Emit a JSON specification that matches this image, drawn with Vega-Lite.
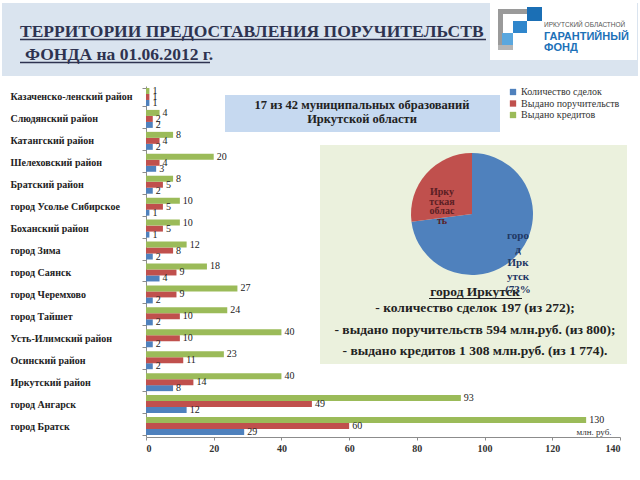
{
  "$schema": "https://vega.github.io/schema/vega-lite/v6.json",
  "width": 474,
  "height": 351,
  "autosize": {"type": "none"},
  "padding": {"left": 146, "top": 86, "right": 20, "bottom": 43},
  "background": "white",
  "config": {"view": {"stroke": null}, "font": "Liberation Serif", "legend": {"labelFont": "Liberation Serif"}},
  "layer": [
    {
      "data": {"values": [{}]},
      "layer": [
        {"mark": {"type": "rect", "color": "#dae4ef"},
         "encoding": {
           "x": {"datum": 2, "scale": {"domain": [0, 640], "range": [-146, 494], "nice": false, "zero": false}, "axis": null},
           "x2": {"datum": 638},
           "y": {"datum": 3, "scale": {"domain": [0, 480], "range": [-86, 394], "nice": false, "zero": false}, "axis": null},
           "y2": {"datum": 76}}},
        {"mark": {"type": "rect", "color": "#ffffff"},
         "encoding": {"x": {"datum": 490}, "x2": {"datum": 637}, "y": {"datum": 3}, "y2": {"datum": 60}}},
        {"mark": {"type": "rect", "color": "#c6d9f0"},
         "encoding": {"x": {"datum": 225}, "x2": {"datum": 500}, "y": {"datum": 95}, "y2": {"datum": 132}}},
        {"mark": {"type": "rect", "color": "#ebf1dd"},
         "encoding": {"x": {"datum": 320}, "x2": {"datum": 627}, "y": {"datum": 145}, "y2": {"datum": 364}}},
        {"mark": {"type": "rect", "color": "#9a9a9a"},
         "encoding": {"x": {"datum": 498}, "x2": {"datum": 503}, "y": {"datum": 9}, "y2": {"datum": 50}}},
        {"mark": {"type": "rect", "color": "#9a9a9a"},
         "encoding": {"x": {"datum": 498}, "x2": {"datum": 527}, "y": {"datum": 9}, "y2": {"datum": 14}}},
        {"mark": {"type": "rect", "color": "#b5b5b5"},
         "encoding": {"x": {"datum": 498}, "x2": {"datum": 513}, "y": {"datum": 45}, "y2": {"datum": 50}}},
        {"mark": {"type": "rect", "color": "#1b6fb5"},
         "encoding": {"x": {"datum": 527}, "x2": {"datum": 542}, "y": {"datum": 7}, "y2": {"datum": 21}}},
        {"mark": {"type": "rect", "color": "#2f86cc"},
         "encoding": {"x": {"datum": 513}, "x2": {"datum": 527}, "y": {"datum": 21}, "y2": {"datum": 33}}},
        {"mark": {"type": "rect", "color": "#5aa7de"},
         "encoding": {"x": {"datum": 502}, "x2": {"datum": 513}, "y": {"datum": 33}, "y2": {"datum": 45}}}
      ]
    },
    {
      "data": {"values": [
        {"area": "Казаченско-ленский район", "series": "Количество сделок", "value": 1},
        {"area": "Казаченско-ленский район", "series": "Выдано поручительств", "value": 1},
        {"area": "Казаченско-ленский район", "series": "Выдано кредитов", "value": 1},
        {"area": "Слюдянский район", "series": "Количество сделок", "value": 2},
        {"area": "Слюдянский район", "series": "Выдано поручительств", "value": 2},
        {"area": "Слюдянский район", "series": "Выдано кредитов", "value": 4},
        {"area": "Катангский район", "series": "Количество сделок", "value": 2},
        {"area": "Катангский район", "series": "Выдано поручительств", "value": 4},
        {"area": "Катангский район", "series": "Выдано кредитов", "value": 8},
        {"area": "Шелеховский район", "series": "Количество сделок", "value": 3},
        {"area": "Шелеховский район", "series": "Выдано поручительств", "value": 4},
        {"area": "Шелеховский район", "series": "Выдано кредитов", "value": 20},
        {"area": "Братский район", "series": "Количество сделок", "value": 2},
        {"area": "Братский район", "series": "Выдано поручительств", "value": 5},
        {"area": "Братский район", "series": "Выдано кредитов", "value": 8},
        {"area": "город Усолье Сибирское", "series": "Количество сделок", "value": 1},
        {"area": "город Усолье Сибирское", "series": "Выдано поручительств", "value": 5},
        {"area": "город Усолье Сибирское", "series": "Выдано кредитов", "value": 10},
        {"area": "Боханский район", "series": "Количество сделок", "value": 1},
        {"area": "Боханский район", "series": "Выдано поручительств", "value": 5},
        {"area": "Боханский район", "series": "Выдано кредитов", "value": 10},
        {"area": "город Зима", "series": "Количество сделок", "value": 2},
        {"area": "город Зима", "series": "Выдано поручительств", "value": 8},
        {"area": "город Зима", "series": "Выдано кредитов", "value": 12},
        {"area": "город Саянск", "series": "Количество сделок", "value": 4},
        {"area": "город Саянск", "series": "Выдано поручительств", "value": 9},
        {"area": "город Саянск", "series": "Выдано кредитов", "value": 18},
        {"area": "город Черемхово", "series": "Количество сделок", "value": 2},
        {"area": "город Черемхово", "series": "Выдано поручительств", "value": 9},
        {"area": "город Черемхово", "series": "Выдано кредитов", "value": 27},
        {"area": "город Тайшет", "series": "Количество сделок", "value": 2},
        {"area": "город Тайшет", "series": "Выдано поручительств", "value": 10},
        {"area": "город Тайшет", "series": "Выдано кредитов", "value": 24},
        {"area": "Усть-Илимский район", "series": "Количество сделок", "value": 2},
        {"area": "Усть-Илимский район", "series": "Выдано поручительств", "value": 10},
        {"area": "Усть-Илимский район", "series": "Выдано кредитов", "value": 40},
        {"area": "Осинский район", "series": "Количество сделок", "value": 2},
        {"area": "Осинский район", "series": "Выдано поручительств", "value": 11},
        {"area": "Осинский район", "series": "Выдано кредитов", "value": 23},
        {"area": "Иркутский район", "series": "Количество сделок", "value": 8},
        {"area": "Иркутский район", "series": "Выдано поручительств", "value": 14},
        {"area": "Иркутский район", "series": "Выдано кредитов", "value": 40},
        {"area": "город Ангарск", "series": "Количество сделок", "value": 12},
        {"area": "город Ангарск", "series": "Выдано поручительств", "value": 49},
        {"area": "город Ангарск", "series": "Выдано кредитов", "value": 93},
        {"area": "город Братск", "series": "Количество сделок", "value": 29},
        {"area": "город Братск", "series": "Выдано поручительств", "value": 60},
        {"area": "город Братск", "series": "Выдано кредитов", "value": 130}
      ]},
      "encoding": {
        "y": {"field": "area", "type": "nominal", "sort": null,
              "scale": {"paddingInner": 0.18, "paddingOuter": 0.09},
              "axis": {"orient": "left", "title": null, "labelAlign": "left", "labelPadding": 132, "tickSize": 4, "tickBand": "extent",
                       "labelFont": "Liberation Serif", "labelFontSize": 10, "labelFontWeight": "bold", "labelColor": "#222222",
                       "domainColor": "#8c8c8c", "tickColor": "#8c8c8c", "labelLimit": 200}},
        "x": {"field": "value", "type": "quantitative",
              "scale": {"domain": [0, 140], "nice": false},
              "axis": {"orient": "bottom", "title": null, "values": [0, 20, 40, 60, 80, 100, 120, 140], "grid": false,
                       "labelFont": "Liberation Serif", "labelFontSize": 10, "labelFontWeight": "bold", "labelColor": "#333333",
                       "domainColor": "#8c8c8c", "tickColor": "#8c8c8c", "tickSize": 3, "labelPadding": 3}},
        "yOffset": {"field": "series", "type": "nominal",
                    "scale": {"domain": ["Выдано кредитов", "Выдано поручительств", "Количество сделок"], "paddingInner": 0}}
      },
      "layer": [
        {"mark": {"type": "bar"},
         "encoding": {
           "color": {"field": "series", "type": "nominal",
                     "scale": {"domain": ["Количество сделок", "Выдано поручительств", "Выдано кредитов"], "range": ["#4f81bd", "#c0504d", "#9bbb59"]},
                     "legend": {"orient": "none", "legendX": 362, "legendY": 1, "title": null, "symbolType": "square", "symbolSize": 40,
                                "labelFont": "Liberation Serif", "labelFontSize": 10, "labelColor": "#333333", "rowPadding": 1.5,
                                "labelOffset": 3, "symbolStrokeWidth": 0, "padding": 0, "labelLimit": 200}}}},
        {"mark": {"type": "text", "align": "left", "baseline": "middle", "dx": 3, "fontSize": 10, "font": "Liberation Serif", "color": "#222222"},
         "encoding": {"text": {"field": "value", "type": "quantitative"}}}
      ]
    },
    {
      "data": {"values": [{"part": "город Иркутск", "share": 73}, {"part": "Иркутская область", "share": 27}]},
      "layer": [
        {"mark": {"type": "arc", "outerRadius": 61},
         "encoding": {
           "x": {"datum": 472, "scale": {"domain": [0, 640], "range": [-146, 494], "nice": false, "zero": false}, "axis": null},
           "y": {"datum": 214, "scale": {"domain": [0, 480], "range": [-86, 394], "nice": false, "zero": false}, "axis": null},
           "theta": {"field": "share", "type": "quantitative", "stack": true},
           "order": {"field": "share", "sort": "descending"},
           "color": {"field": "part", "type": "nominal", "scale": {"domain": ["город Иркутск", "Иркутская область"], "range": ["#4f81bd", "#c0504d"]}, "legend": null}}}
      ]
    },
    {
      "data": {"values": [{}]},
      "layer": [
        {"mark": {"type": "text", "text": "ТЕРРИТОРИИ  ПРЕДОСТАВЛЕНИЯ ПОРУЧИТЕЛЬСТВ", "align": "left", "baseline": "alphabetic", "fontSize": 17.5, "fontWeight": "bold", "font": "Liberation Serif", "color": "#2e3350"},
         "encoding": {
           "x": {"datum": 20, "scale": {"domain": [0, 640], "range": [-146, 494], "nice": false, "zero": false}, "axis": null},
           "y": {"datum": 37, "scale": {"domain": [0, 480], "range": [-86, 394], "nice": false, "zero": false}, "axis": null}}},
        {"mark": {"type": "rule", "color": "#2e3350", "strokeWidth": 1.3},
         "encoding": {"x": {"datum": 20}, "x2": {"datum": 486}, "y": {"datum": 39.5}}},
        {"mark": {"type": "text", "text": "ФОНДА  на 01.06.2012 г.", "align": "left", "baseline": "alphabetic", "fontSize": 17.5, "fontWeight": "bold", "font": "Liberation Serif", "color": "#2e3350"},
         "encoding": {"x": {"datum": 25}, "y": {"datum": 60}}},
        {"mark": {"type": "rule", "color": "#2e3350", "strokeWidth": 1.3},
         "encoding": {"x": {"datum": 20}, "x2": {"datum": 210}, "y": {"datum": 62.5}}},
        {"mark": {"type": "text", "text": "ИРКУТСКИЙ ОБЛАСТНОЙ", "align": "left", "baseline": "middle", "fontSize": 6.5, "font": "Liberation Sans", "color": "#555555"},
         "encoding": {"x": {"datum": 544}, "y": {"datum": 25}}},
        {"mark": {"type": "text", "text": "ГАРАНТИЙНЫЙ", "align": "left", "baseline": "middle", "fontSize": 11, "fontWeight": "bold", "font": "Liberation Sans", "color": "#1d71b8"},
         "encoding": {"x": {"datum": 544}, "y": {"datum": 37}}},
        {"mark": {"type": "text", "text": "ФОНД", "align": "left", "baseline": "middle", "fontSize": 11, "fontWeight": "bold", "font": "Liberation Sans", "color": "#1d71b8"},
         "encoding": {"x": {"datum": 544}, "y": {"datum": 48}}},
        {"mark": {"type": "text", "text": ["17 из 42 муниципальных образований", "Иркутской области"], "lineHeight": 14, "align": "center", "baseline": "alphabetic", "fontSize": 12.5, "fontWeight": "bold", "font": "Liberation Serif", "color": "#222222"},
         "encoding": {"x": {"datum": 362}, "y": {"datum": 109}}},
        {"mark": {"type": "text", "text": ["Ирку", "тская", "облас", "ть"], "lineHeight": 9.5, "align": "center", "baseline": "alphabetic", "fontSize": 10, "fontWeight": "bold", "font": "Liberation Serif", "color": "#5a1e24"},
         "encoding": {"x": {"datum": 442}, "y": {"datum": 195}}},
        {"mark": {"type": "text", "text": ["горо", "д", "Ирк", "утск", "(73%"], "lineHeight": 13.5, "align": "center", "baseline": "alphabetic", "fontSize": 11, "fontWeight": "bold", "font": "Liberation Serif", "color": "#1f3864"},
         "encoding": {"x": {"datum": 518}, "y": {"datum": 239}}},
        {"mark": {"type": "text", "text": "город Иркутск", "align": "center", "baseline": "alphabetic", "fontSize": 13.5, "fontWeight": "bold", "font": "Liberation Serif", "color": "#222222"},
         "encoding": {"x": {"datum": 475}, "y": {"datum": 296}}},
        {"mark": {"type": "rule", "color": "#222222", "strokeWidth": 1},
         "encoding": {"x": {"datum": 429}, "x2": {"datum": 522}, "y": {"datum": 298.5}}},
        {"mark": {"type": "text", "text": "- количество сделок 197 (из 272);", "align": "center", "baseline": "alphabetic", "fontSize": 13.5, "fontWeight": "bold", "font": "Liberation Serif", "color": "#222222"},
         "encoding": {"x": {"datum": 475}, "y": {"datum": 312}}},
        {"mark": {"type": "text", "text": "- выдано поручительств 594 млн.руб. (из 800);", "align": "center", "baseline": "alphabetic", "fontSize": 13.5, "fontWeight": "bold", "font": "Liberation Serif", "color": "#222222"},
         "encoding": {"x": {"datum": 475}, "y": {"datum": 334}}},
        {"mark": {"type": "text", "text": "- выдано кредитов 1 308 млн.руб. (из 1 774).", "align": "center", "baseline": "alphabetic", "fontSize": 13.5, "fontWeight": "bold", "font": "Liberation Serif", "color": "#222222"},
         "encoding": {"x": {"datum": 475}, "y": {"datum": 355}}},
        {"mark": {"type": "text", "text": "млн. руб.", "align": "center", "baseline": "alphabetic", "fontSize": 9, "font": "Liberation Serif", "color": "#333333"},
         "encoding": {"x": {"datum": 594}, "y": {"datum": 435}}}
      ]
    }
  ],
  "resolve": {"scale": {"x": "independent", "y": "independent", "color": "independent"}}
}
